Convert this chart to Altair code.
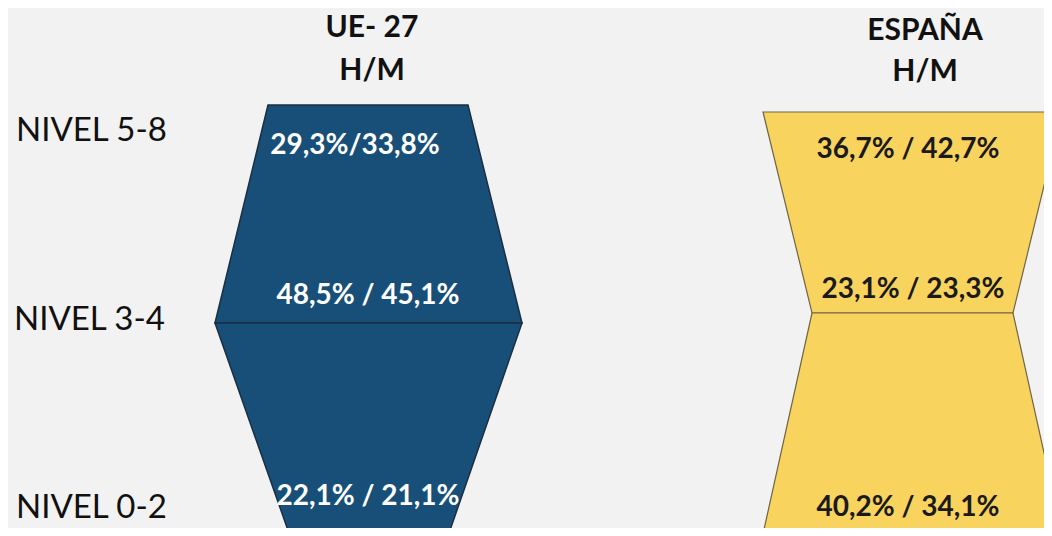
import altair as alt
import pandas as pd

# ---- data ----
levels = ["NIVEL 5-8", "NIVEL 3-4", "NIVEL 0-2"]
regions = ["UE- 27", "ESPAÑA"]
subtitle = "H/M"
ue_h = [29.3, 48.5, 22.1]
ue_m = [33.8, 45.1, 21.1]
es_h = [36.7, 23.1, 40.2]
es_m = [42.7, 23.3, 34.1]
ue_sep = ["/", " / ", " / "]
es_sep = [" / ", " / ", " / "]

# shape outline of each block (canvas units)
ue_part = ["top", "top", "bottom", "bottom"]
ue_y = [105, 323, 323, 536]
ue_left = [268, 215, 215, 290]
ue_right = [468, 522, 522, 448]
es_part = ["top", "top", "bottom", "bottom"]
es_y = [112, 313, 313, 534]
es_left = [763, 812, 812, 763]
es_right = [1062, 1013, 1013, 1062]


def fmt(v):
    return f"{v:.1f}".replace(".", ",") + "%"


ue_labels = [fmt(h) + s + fmt(m) for h, m, s in zip(ue_h, ue_m, ue_sep)]
es_labels = [fmt(h) + s + fmt(m) for h, m, s in zip(es_h, es_m, es_sep)]

# layout
W, H = 1036, 520
xs = alt.Scale(domain=[8, 8 + W], nice=False, zero=False)
ys = alt.Scale(domain=[8, 8 + H], nice=False, zero=False, reverse=True)
X = lambda f: alt.X(f, type="quantitative", scale=xs, axis=None)
Y = lambda f: alt.Y(f, type="quantitative", scale=ys, axis=None)

ue_df = pd.DataFrame({"part": ue_part, "y": ue_y, "l": ue_left, "r": ue_right})
es_df = pd.DataFrame({"part": es_part, "y": es_y, "l": es_left, "r": es_right})

ue_shape = alt.Chart(ue_df).mark_area(
    orient="horizontal", color="#174F78", stroke="#1B2F42", strokeWidth=1.5, clip=True
).encode(y=Y("y"), x=X("l"), x2="r", detail="part:N")

es_shape = alt.Chart(es_df).mark_area(
    orient="horizontal", color="#F8D35E", stroke="#6E6446", strokeWidth=1.2, clip=True
).encode(y=Y("y"), x=X("l"), x2="r", detail="part:N")

ue_txt_df = pd.DataFrame({"t": ue_labels, "x": [355, 368, 368], "y": [146, 296, 497]})
es_txt_df = pd.DataFrame({"t": es_labels, "x": [908, 913, 908], "y": [150, 290, 508]})

ue_txt = alt.Chart(ue_txt_df).mark_text(
    font="Lato", fontWeight="bold", fontSize=28, color="white", align="center", baseline="middle"
).encode(x=X("x"), y=Y("y"), text="t:N")

es_txt = alt.Chart(es_txt_df).mark_text(
    font="Lato", fontWeight="bold", fontSize=28, color="#1A1A1A", align="center", baseline="middle"
).encode(x=X("x"), y=Y("y"), text="t:N")

lvl_df = pd.DataFrame({"t": levels, "x": [16, 14, 16], "y": [131, 320, 508]})
lvl_txt = alt.Chart(lvl_df).mark_text(
    font="Lato", fontSize=33, color="#111111", align="left", baseline="middle"
).encode(x=X("x"), y=Y("y"), text="t:N")

hdr_df = pd.DataFrame({
    "t": [regions[0], subtitle, regions[1], subtitle],
    "x": [372, 372, 925, 925],
    "y": [28, 71, 31, 72],
})
hdr_txt = alt.Chart(hdr_df).mark_text(
    font="Lato", fontWeight="bold", fontSize=30, color="#111111", align="center", baseline="middle"
).encode(x=X("x"), y=Y("y"), text="t:N")

chart = alt.layer(ue_shape, es_shape, ue_txt, es_txt, lvl_txt, hdr_txt).properties(
    width=W, height=H, background="#F2F2F2", padding=0,
    autosize=alt.AutoSizeParams(type="fit", contains="padding"),
).configure_view(stroke=None)

chart.save("out.html", embed_options={"renderer": "svg", "actions": False})
